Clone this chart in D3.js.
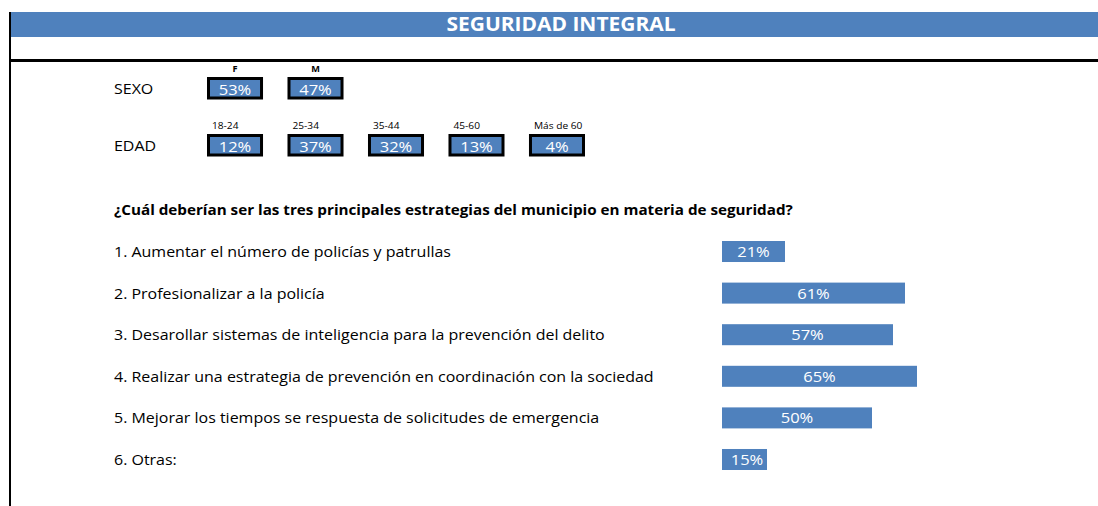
<!DOCTYPE html>
<html>
<head>
<meta charset="utf-8">
<script src="https://cdn.jsdelivr.net/npm/d3@7"></script>
<style>
  body { margin: 0; background: #fff; }
  svg { display: block; font-family: "Open Sans", sans-serif; }
</style>
</head>
<body>
<svg id="chart" width="1098" height="506"></svg>
<script>
const title = 'SEGURIDAD INTEGRAL';
const question = '¿Cuál deberían ser las tres principales estrategias del municipio en materia de seguridad?';

const sexLabels = ['F', 'M'];
const sexValues = [53, 47];

const ageLabels = ['18-24', '25-34', '35-44', '45-60', 'Más de 60'];
const ageValues = [12, 37, 32, 13, 4];

const strategies = [
  '1. Aumentar el número de policías y patrullas',
  '2. Profesionalizar a la policía',
  '3. Desarollar sistemas de inteligencia para la prevención del delito',
  '4. Realizar una estrategia de prevención en coordinación con la sociedad',
  '5. Mejorar los tiempos se respuesta de solicitudes de emergencia',
  '6. Otras:'
];
const strategyValues = [21, 61, 57, 65, 50, 15];

const blue = '#4f81bd';
const stretch = 1.08; // the sheet text is a bit wider than Open Sans
const svg = d3.select('#chart');

function translate(x, y) {
  return `translate(${x}, ${y})`;
}

// text placed at (x, y) and widened a little horizontally
function place(x, y) {
  return `translate(${x}, ${y}) scale(${stretch}, 1)`;
}

// ---------- frame ----------
svg.append('rect').attr('x', 11).attr('y', 12).attr('width', 1087).attr('height', 25).attr('fill', blue);
svg.append('text')
  .attr('transform', place(561, 31))
  .attr('text-anchor', 'middle')
  .attr('fill', '#fff').attr('font-weight', 'bold').attr('font-size', 19.4)
  .text(title);
svg.append('line').attr('x1', 10).attr('x2', 10).attr('y1', 12).attr('y2', 506)
  .attr('stroke', '#000').attr('stroke-width', 2);
svg.append('line').attr('x1', 9).attr('x2', 1098).attr('y1', 60.5).attr('y2', 60.5)
  .attr('stroke', '#000').attr('stroke-width', 3);

// ---------- demographic boxes ----------
const xBox = d3.scaleBand().domain(d3.range(ageLabels.length)).range([207, 585]).paddingInner(0.304);

function drawBoxes(labels, values, top, rowName, labelBold) {
  const g = svg.append('g').attr('transform', translate(0, top));
  g.append('text').attr('transform', place(114, 17)).attr('font-size', 14.8).attr('fill', '#000').text(rowName);

  const cell = g.selectAll('.box').data(values).enter()
    .append('g').attr('class', 'box')
    .attr('transform', (d, i) => translate(xBox(i), 0));

  cell.append('rect')
    .attr('x', 1.5).attr('y', 1.5)
    .attr('width', xBox.bandwidth() - 3).attr('height', 19.5)
    .attr('fill', blue).attr('stroke', '#000').attr('stroke-width', 3);

  cell.append('text')
    .attr('transform', place(xBox.bandwidth() / 2, 17.5))
    .attr('text-anchor', 'middle').attr('fill', '#fff').attr('font-size', 15.3)
    .text(d => d + '%');

  // sex labels sit centred, age labels start near the box's left edge
  cell.append('text')
    .attr('transform', place(labelBold ? xBox.bandwidth() / 2 : 5, -5))
    .attr('text-anchor', labelBold ? 'middle' : 'start')
    .attr('font-size', labelBold ? 8.5 : 9.4)
    .attr('font-weight', labelBold ? 'bold' : 'normal').attr('fill', '#000')
    .text((d, i) => labels[i]);
}

drawBoxes(sexLabels, sexValues, 77, 'SEXO', true);
drawBoxes(ageLabels, ageValues, 134, 'EDAD', false);

// ---------- strategies ----------
svg.append('text')
  .attr('transform', place(114, 215))
  .attr('font-size', 14.1).attr('font-weight', 'bold').attr('fill', '#000')
  .text(question);

const yRow = d3.scaleBand().domain(d3.range(strategies.length)).range([241, 470]).paddingInner(0.495);
const xBar = d3.scaleLinear().domain([0, 65]).range([722, 917]);

svg.selectAll('.item').data(strategies).enter()
  .append('text').attr('class', 'item')
  .attr('transform', (d, i) => place(114, yRow(i) + 16))
  .attr('font-size', 14.8).attr('fill', '#000')
  .text(d => d);

svg.selectAll('.bar').data(strategyValues).enter()
  .append('rect').attr('class', 'bar')
  .attr('x', xBar(0)).attr('y', (d, i) => yRow(i))
  .attr('width', d => xBar(d) - xBar(0)).attr('height', yRow.bandwidth())
  .attr('fill', blue);

svg.selectAll('.bar-label').data(strategyValues).enter()
  .append('text').attr('class', 'bar-label')
  .attr('transform', (d, i) => place(Math.max((xBar(d) + xBar(0)) / 2, xBar(0) + 25), yRow(i) + 16))
  .attr('text-anchor', 'middle').attr('fill', '#fff').attr('font-size', 15.3)
  .text(d => d + '%');
</script>
</body>
</html>
